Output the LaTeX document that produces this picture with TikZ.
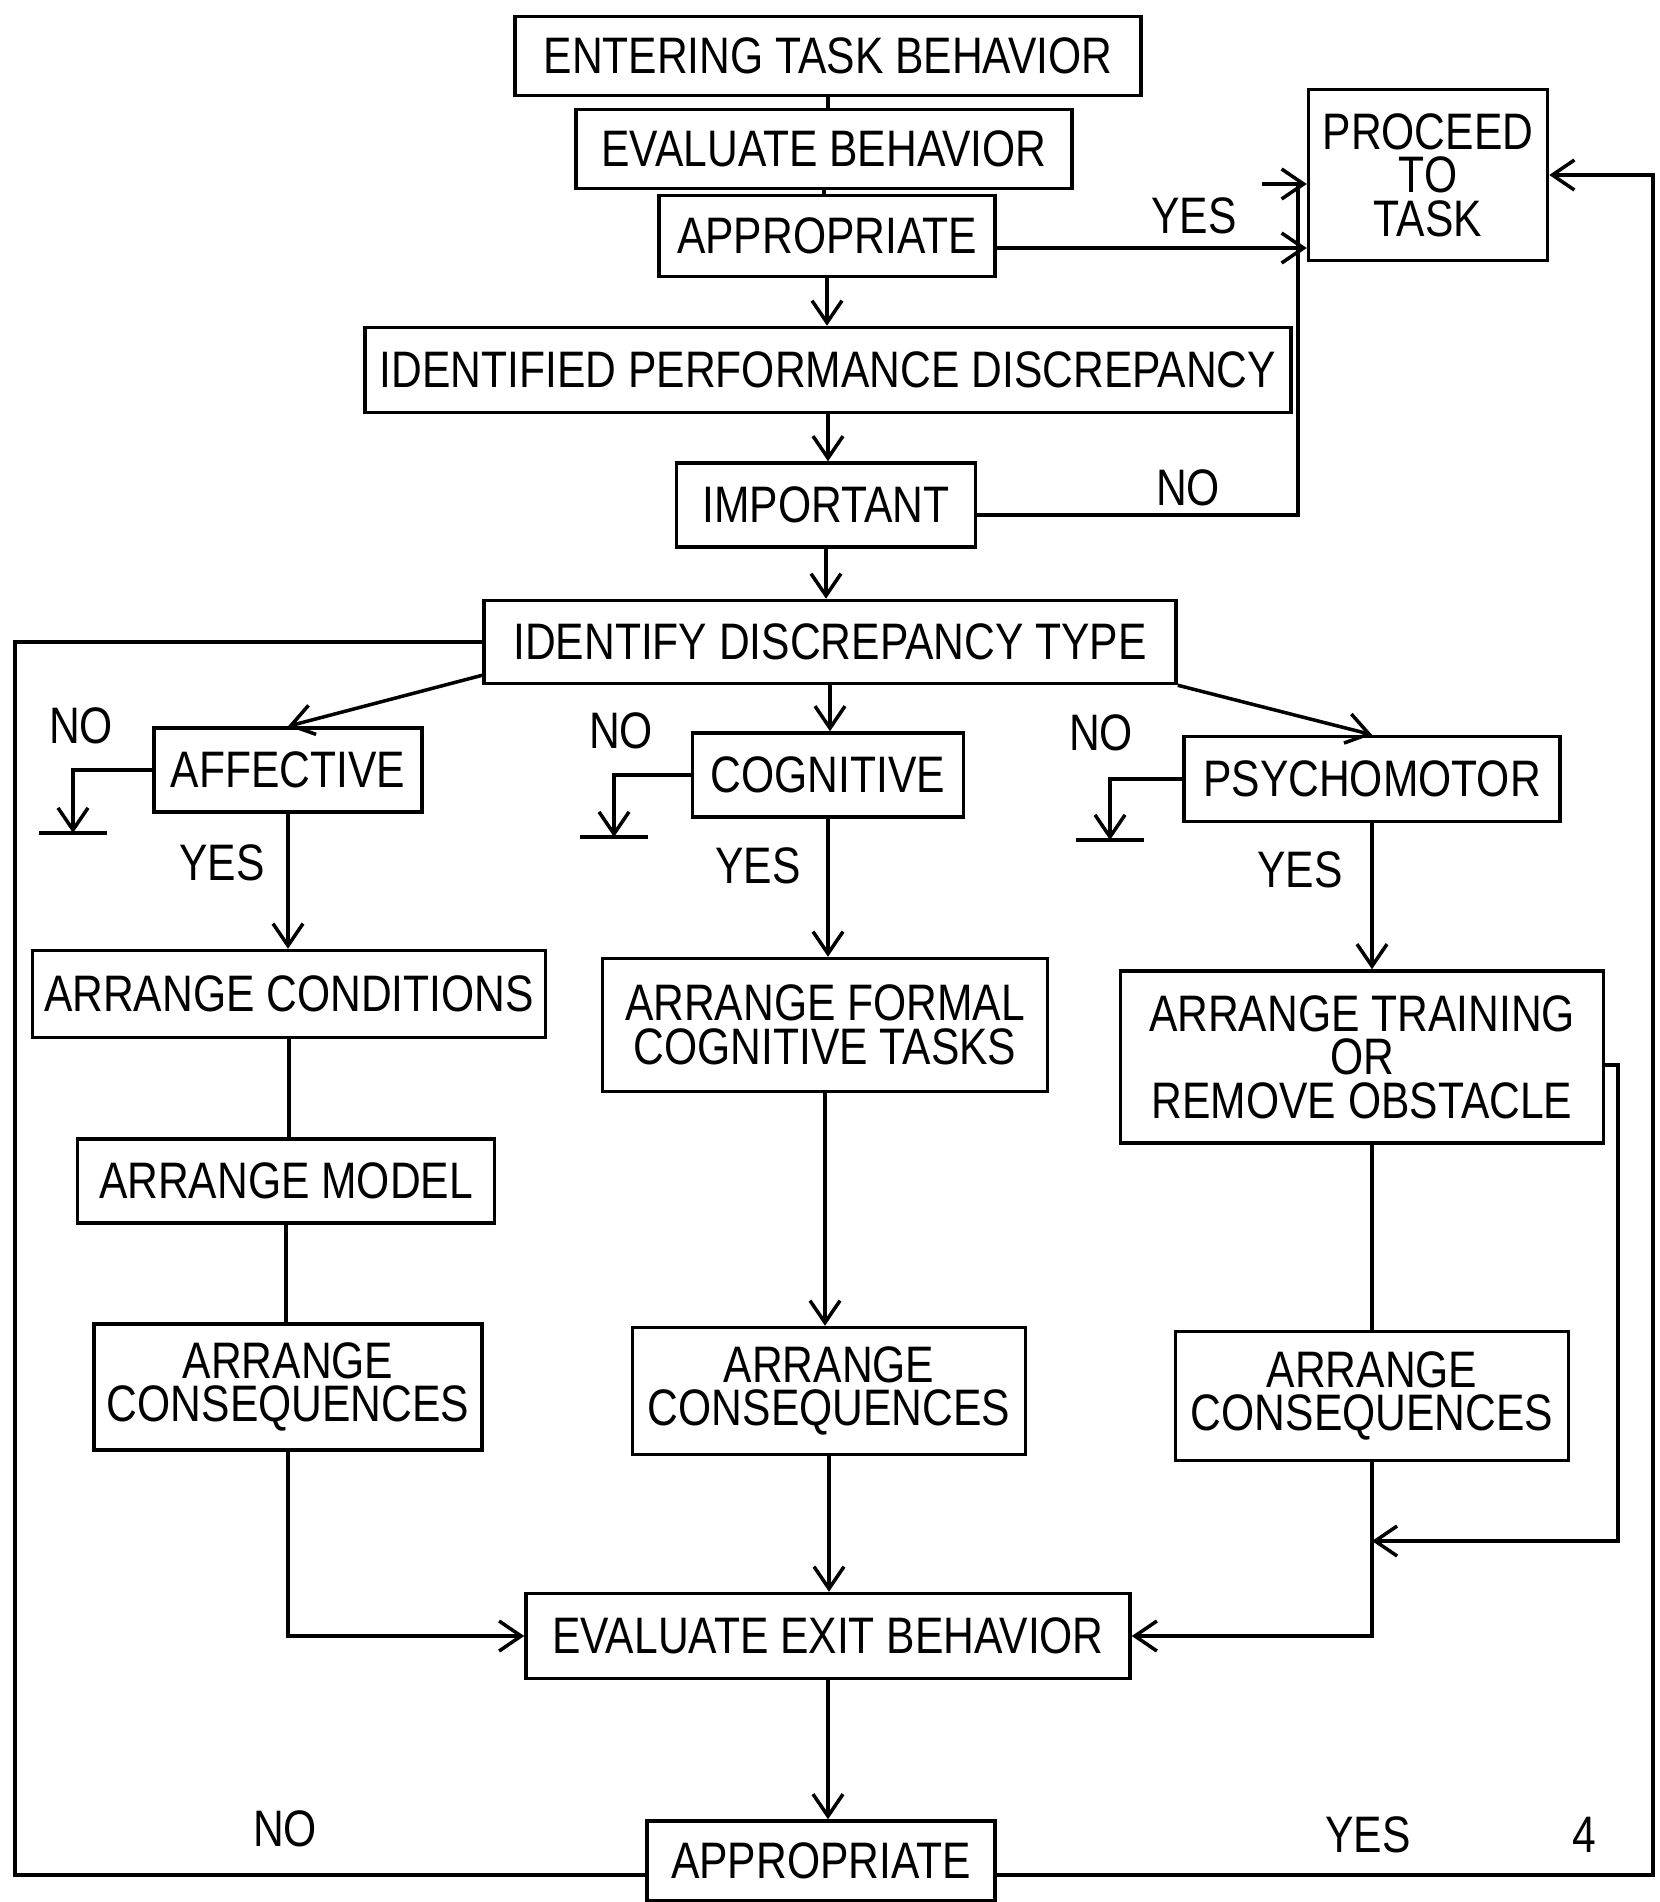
\documentclass[tikz,border=0pt]{standalone}
\usepackage{fontspec}
\setmainfont[FakeStretch=0.83]{Liberation Sans}
\usetikzlibrary{arrows.meta}

\begin{document}
\begin{tikzpicture}[
		box/.style={draw, line width=1pt, align=center, inner sep=0pt},
		lbl/.style={inner sep=0pt},
		flow/.style={line width=1pt},
		>={Straight Barb[length=2.2mm,width=3mm]},
		every node/.style={font=\fontsize{14.6}{12.4}\selectfont}
	]
		\useasboundingbox (0,0) rectangle (16.6,-19.02);

		\def\groundbar{ ++(-0.34,0) -- ++(0.68,0)}

		% main column
		\node[box, minimum width=6.26cm, minimum height=0.79cm] (entering) at (8.28,-0.56) {ENTERING TASK BEHAVIOR};
		\node[box, minimum width=4.96cm, minimum height=0.79cm] (evalb) at (8.24,-1.49) {EVALUATE BEHAVIOR};
		\node[box, minimum width=3.36cm, minimum height=0.81cm] (approp) at (8.27,-2.36) {APPROPRIATE};
		\node[box, minimum width=2.39cm, minimum height=1.71cm] (proceed) at (14.28,-1.75) {PROCEED\\TO\\TASK};
		\node[box, minimum width=9.26cm, minimum height=0.85cm] (identified) at (8.28,-3.70) {IDENTIFIED PERFORMANCE DISCREPANCY};
		\node[box, minimum width=2.99cm, minimum height=0.84cm] (important) at (8.26,-5.05) {IMPORTANT};
		\node[box, minimum width=6.92cm, minimum height=0.83cm] (idtype) at (8.30,-6.42) {IDENTIFY DISCREPANCY TYPE};

		% discrepancy types
		\node[box, minimum width=2.68cm, minimum height=0.84cm] (affective) at (2.88,-7.70) {AFFECTIVE};
		\node[box, minimum width=2.71cm, minimum height=0.84cm] (cognitive) at (8.28,-7.75) {COGNITIVE};
		\node[box, minimum width=3.76cm, minimum height=0.85cm] (psycho) at (13.72,-7.79) {PSYCHOMOTOR};

		% treatments
		\node[box, minimum width=5.13cm, minimum height=0.87cm] (conditions) at (2.89,-9.94) {ARRANGE CONDITIONS};
		\node[box, minimum width=4.45cm, minimum height=1.33cm] (formal) at (8.25,-10.25) {ARRANGE FORMAL\\COGNITIVE TASKS};
		\node[box, minimum width=4.83cm, minimum height=1.72cm] (training) at (13.62,-10.57) {ARRANGE TRAINING\\OR\\REMOVE OBSTACLE};
		\node[box, minimum width=4.17cm, minimum height=0.84cm] (model) at (2.86,-11.81) {ARRANGE MODEL};
		\node[box, minimum width=3.88cm, minimum height=1.26cm] (consL) at (2.88,-13.87) {ARRANGE\\CONSEQUENCES};
		\node[box, minimum width=3.93cm, minimum height=1.27cm] (consM) at (8.29,-13.91) {ARRANGE\\CONSEQUENCES};
		\node[box, minimum width=3.93cm, minimum height=1.29cm] (consR) at (13.72,-13.96) {ARRANGE\\CONSEQUENCES};

		% exit
		\node[box, minimum width=6.04cm, minimum height=0.85cm] (exitb) at (8.28,-16.36) {EVALUATE EXIT BEHAVIOR};
		\node[box, minimum width=3.48cm, minimum height=0.80cm] (approp2) at (8.21,-18.61) {APPROPRIATE};

		% labels
		\node[lbl] (yes1) at (11.94,-2.16) {YES};
		\node[lbl] (no1) at (11.88,-4.88) {NO};
		\node[lbl] (noA) at (0.81,-7.26) {NO};
		\node[lbl] (noC) at (6.21,-7.31) {NO};
		\node[lbl] (noP) at (11.01,-7.33) {NO};
		\node[lbl] (yesA) at (2.22,-8.63) {YES};
		\node[lbl] (yesC) at (7.58,-8.66) {YES};
		\node[lbl] (yesP) at (13.00,-8.70) {YES};
		\node[lbl] (no2) at (2.85,-18.29) {NO};
		\node[lbl] (yes2) at (13.68,-18.35) {YES};
		\node[lbl] (pageno) at (15.84,-18.35) {4};

		\coordinate (nobend) at (12.98,-1.84);
		\coordinate (nostub) at (12.62,-1.84);
		\coordinate (gndA) at (0.73,-8.33);
		\coordinate (gndC) at (6.14,-8.37);
		\coordinate (gndP) at (11.10,-8.40);
		\coordinate (rjoin) at (16.18,-10.65);
		\coordinate (tjoin) at (13.72,-15.41);
		\coordinate (loopL) at (0.15,-18.75);
		\coordinate (loopR) at (16.53,-18.75);

		% top part
		\draw[flow] (entering) -- (entering |- evalb.north);
		\draw[flow] (evalb) -- (evalb |- approp.north);
		\draw[flow,->] (approp) -- (approp |- identified.north);
		\draw[flow,->] ([yshift=-1.2mm]approp.east) -- ([yshift=-1.2mm]approp.east -| proceed.west);
		\draw[flow,->] (identified) -- (identified |- important.north);
		\draw[flow,->] (important) -- (important |- idtype.north);
		\draw[flow] ([yshift=-1mm]important.east) -| (nobend);
		\draw[flow,->] (nostub) -- (nostub -| proceed.west);

		% branches
		\draw[flow,->] ([yshift=1mm]idtype.south west) -- (affective.north);
		\draw[flow,->] (idtype) -- (idtype |- cognitive.north);
		\draw[flow,->] (idtype.south east) -- (psycho.north);
		\draw[flow,->] (affective.west) -| (gndA);
		\draw[flow,->] (cognitive.west) -| (gndC);
		\draw[flow,->] (psycho.west) -| (gndP);
		\draw[line width=1.2pt] (gndA) \groundbar;
		\draw[line width=1.2pt] (gndC) \groundbar;
		\draw[line width=1.2pt] (gndP) \groundbar;

		% columns
		\draw[flow,->] (affective) -- (affective |- conditions.north);
		\draw[flow,->] (cognitive) -- (cognitive |- formal.north);
		\draw[flow,->] (psycho) -- (psycho |- training.north);
		\draw[flow] (conditions) -- (conditions |- model.north);
		\draw[flow] (model) -- (model |- consL.north);
		\draw[flow,->] (formal) -- (formal |- consM.north);
		\draw[flow] (training.south -| consR) -- (consR.north);
		\draw[flow,->] (training.east |- rjoin) -- (rjoin) |- (tjoin);
		\draw[flow,->] (consL) |- (exitb.west);
		\draw[flow,->] (consM) -- (consM |- exitb.north);
		\draw[flow,->] (consR) |- (exitb.east);
		\draw[flow,->] (exitb) -- (exitb |- approp2.north);

		% loops back
		\draw[flow] (approp2.west |- loopL) -- (loopL) |- (idtype.west);
		\draw[flow,->] (approp2.east |- loopR) -- (loopR) |- (proceed.east);
	\end{tikzpicture}
\end{document}
